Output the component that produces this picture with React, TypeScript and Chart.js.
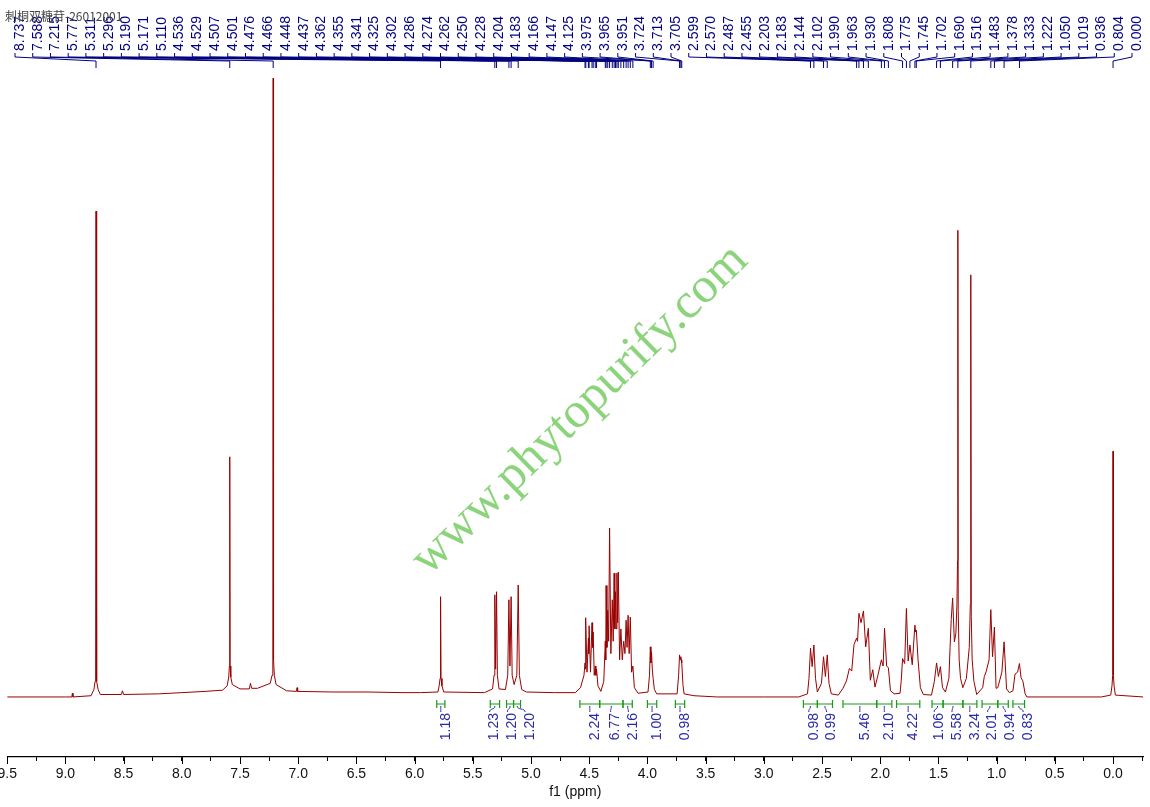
import React, { useEffect, useRef } from "react";
import { Chart, registerables } from "chart.js";

Chart.register(...registerables);

// ---------- data ----------
// spectrum points [ppm, relative intensity] (tallest = 100)
const aromaticRegion: [number, number][] = [
  [9.5, 0.0], [9.0, 0.0], [8.945, 0.0], [8.94, 0.6], [8.935, 0.0],
  [8.78, 0.2], [8.755, 1.2], [8.745, 2.5], [8.74, 5], [8.737, 78.5], [8.734, 5], [8.729, 2.5], [8.719, 1.2], [8.7, 0.4],
  [8.52, 0.4], [8.51, 1.0], [8.5, 0.4],
  [8.2, 0.5], [8.0, 0.7], [7.8, 0.9], [7.65, 1.1],
  [7.61, 1.8], [7.597, 3.2], [7.591, 5], [7.588, 38.8], [7.585, 5], [7.579, 3.2], [7.566, 2.0],
  [7.5, 1.3], [7.42, 1.3], [7.41, 2.2], [7.4, 1.4], [7.35, 1.4],
  [7.24, 2.2], [7.225, 3.5], [7.218, 6], [7.215, 100], [7.212, 6], [7.205, 3.5], [7.19, 2.0],
  [7.1, 1.0], [7.015, 0.9], [7.01, 1.5], [7.005, 0.9],
  [6.7, 0.8], [6.4, 0.8], [6.1, 0.7], [5.95, 0.7],
];

const sugarRegion: [number, number][] = [
  [5.8, 0.8], [5.789, 1.8], [5.781, 3], [5.777, 16.2], [5.773, 3], [5.765, 1.8], [5.75, 0.8],
  [5.4, 0.7], [5.33, 1.3], [5.318, 3.5], [5.311, 16.5], [5.304, 4.5], [5.296, 17.0], [5.289, 3.5], [5.275, 1.3],
  [5.22, 1.2], [5.2, 3.5], [5.19, 15.7], [5.181, 5], [5.171, 16.2], [5.162, 3.5], [5.145, 2.0],
  [5.122, 3.5], [5.11, 18.1], [5.1, 3.5], [5.08, 1.2], [5.04, 0.8],
  [4.8, 0.7], [4.62, 0.7], [4.575, 1.5], [4.545, 3.5], [4.536, 5.5], [4.532, 4.5], [4.529, 12.8], [4.519, 4],
  [4.507, 9.5], [4.504, 7], [4.501, 11.5], [4.489, 4], [4.476, 12], [4.471, 8], [4.466, 10.5], [4.457, 3.5],
  [4.448, 5], [4.443, 3.5], [4.437, 4.5], [4.425, 1.8], [4.4, 0.9],
  [4.375, 2.5], [4.362, 9], [4.358, 6], [4.355, 18], [4.348, 8], [4.341, 14], [4.333, 9], [4.325, 27.3],
  [4.314, 7], [4.302, 15.7], [4.294, 9], [4.286, 20], [4.28, 11], [4.274, 17], [4.268, 11], [4.262, 20],
  [4.256, 12], [4.25, 20.2], [4.239, 6], [4.228, 11], [4.216, 6], [4.204, 9], [4.193, 7], [4.183, 12.4],
  [4.175, 8], [4.166, 13.2], [4.157, 7], [4.147, 12.9], [4.136, 4], [4.125, 5], [4.112, 1.5], [4.08, 0.6],
  [3.995, 0.8], [3.982, 3.5], [3.975, 8.1], [3.97, 5.5], [3.965, 7.3], [3.958, 4.5], [3.951, 3.0], [3.94, 1.2], [3.92, 0.5],
  [3.745, 0.5], [3.732, 3.5], [3.724, 6.8], [3.718, 6.0], [3.713, 6.5], [3.709, 6.0], [3.705, 5.5], [3.695, 2.0], [3.685, 0.5],
  [3.6, 0.2], [3.4, 0.0],
];

const aliphaticRegion: [number, number][] = [
  [3.0, 0.0], [2.7, 0.0], [2.625, 0.5], [2.612, 3], [2.599, 7.9], [2.585, 4.9], [2.57, 8.4], [2.556, 3], [2.54, 0.8],
  [2.505, 2.2], [2.487, 6.5], [2.471, 3.3], [2.455, 6.8], [2.44, 2.2], [2.42, 0.5], [2.36, 0.3],
  [2.32, 1.4], [2.29, 2.6], [2.265, 4.6], [2.245, 4.2], [2.225, 8.5], [2.203, 9.5], [2.195, 9.0], [2.183, 13.5],
  [2.165, 12], [2.144, 13.9], [2.125, 8.1], [2.102, 11.1], [2.085, 2.7], [2.064, 4.4], [2.045, 1.6],
  [2.02, 3.5], [1.99, 6], [1.975, 5], [1.963, 11.1], [1.945, 5], [1.93, 4.7], [1.912, 1.0], [1.88, 0.5], [1.83, 0.6],
  [1.82, 2.5], [1.808, 6.2], [1.79, 5.4], [1.775, 14.3], [1.76, 5.8], [1.745, 8.4], [1.725, 5.2], [1.702, 11.6],
  [1.696, 10.5], [1.69, 10.8], [1.675, 6], [1.655, 1.5], [1.63, 0.4],
  [1.56, 0.3], [1.535, 2.5], [1.516, 5.5], [1.5, 3.3], [1.483, 4.9], [1.465, 1.5], [1.44, 0.8],
  [1.41, 3], [1.4, 8], [1.39, 12.5], [1.378, 16], [1.363, 8.9], [1.35, 10.3], [1.341, 15], [1.336, 22], [1.333, 75.4],
  [1.33, 14], [1.322, 6], [1.31, 3], [1.29, 1.5],
  [1.26, 3], [1.235, 8], [1.226, 15], [1.222, 68.2], [1.218, 13], [1.21, 6], [1.195, 2.5], [1.171, 0.4],
  [1.12, 1.5], [1.106, 3.3], [1.09, 4.1], [1.065, 6], [1.05, 14.1], [1.035, 6.5], [1.019, 11.3], [1.005, 1.4],
  [0.99, 1.5], [0.955, 4], [0.936, 8.9], [0.925, 5], [0.915, 1.3], [0.89, 0.7],
  [0.86, 1.0], [0.842, 3.7], [0.82, 4], [0.804, 5.4], [0.79, 3.1], [0.775, 2.6], [0.755, 0.5], [0.74, 0.0],
  [0.1, 0.0], [0.02, 0.3], [0.009, 1.8], [0.003, 3.5], [0.0, 39.7], [-0.003, 3.5], [-0.009, 1.8], [-0.02, 0.3], [-0.26, 0.0],
];

// peak-pick labels (top)
const peakLabels = [
  "8.737", "7.588", "7.215", "5.777", "5.311", "5.296", "5.190", "5.171", "5.110",
  "4.536", "4.529", "4.507", "4.501", "4.476", "4.466", "4.448", "4.437",
  "4.362", "4.355", "4.341", "4.325", "4.302", "4.286", "4.274", "4.262", "4.250", "4.228",
  "4.204", "4.183", "4.166", "4.147", "4.125", "3.975", "3.965", "3.951", "3.724", "3.713", "3.705",
  "2.599", "2.570", "2.487", "2.455", "2.203", "2.183", "2.144", "2.102", "1.990", "1.963", "1.930",
  "1.808", "1.775", "1.745", "1.702", "1.690", "1.516", "1.483", "1.378", "1.333", "1.222",
  "1.050", "1.019", "0.936", "0.804", "0.000",
];

// integrals
const integralValues = ["1.18", "1.23", "1.20", "1.20", "2.24", "6.77", "2.16", "1.00", "0.98",
  "0.98", "0.99", "5.46", "2.10", "4.22", "1.06", "5.58", "3.24", "2.01", "0.94", "0.83"];
const integralFrom = [5.81, 5.35, 5.21, 5.15, 4.58, 4.41, 4.21, 4.0, 3.76,
  2.66, 2.54, 2.32, 2.03, 1.86, 1.555, 1.46, 1.29, 1.125, 0.99, 0.86];
const integralTo = [5.74, 5.27, 5.15, 5.09, 4.41, 4.21, 4.13, 3.92, 3.68,
  2.54, 2.41, 2.03, 1.9, 1.66, 1.46, 1.29, 1.17, 0.99, 0.9, 0.76];

// axis ticks
const majorTicks = [9.5, 9.0, 8.5, 8.0, 7.5, 7.0, 6.5, 6.0, 5.5, 5.0, 4.5, 4.0, 3.5, 3.0, 2.5, 2.0, 1.5, 1.0, 0.5, 0.0];
const minorTicks = [9.25, 8.75, 8.25, 7.75, 7.25, 6.75, 6.25, 5.75, 5.25, 4.75, 4.25, 3.75, 3.25, 2.75, 2.25, 1.75, 1.25, 0.75, 0.25, -0.25];

const titleText = "刺桐双糖苷-26012001";
const watermark = "www.phytopurify.com";
const axisTitle = "f1 (ppm)";

// ---------- layout constants ----------
const SHIFT = 10; // canvas is shifted left by this many px
const CW = 1170;
const CH = 807;
const FONT = 'Arial, "Liberation Sans", sans-serif';

const overlayPlugin = {
  id: "nmrOverlay",
  afterDraw(chart: any) {
    const ctx = chart.ctx as CanvasRenderingContext2D;
    const xs = chart.scales.x;
    const area = chart.chartArea;

    // major tick extension
    ctx.save();
    ctx.strokeStyle = "#000";
    ctx.lineWidth = 1;
    majorTicks.forEach((v) => {
      const px = Math.round(xs.getPixelForValue(v)) + 0.5;
      ctx.beginPath();
      ctx.moveTo(px, area.bottom);
      ctx.lineTo(px, area.bottom + 7);
      ctx.stroke();
    });
    ctx.restore();

    // peak labels
    const n = peakLabels.length;
    const lx0 = 15 + SHIFT;
    const lx1 = 1132 + SHIFT;
    ctx.save();
    ctx.strokeStyle = "#000080";
    ctx.fillStyle = "#000080";
    ctx.lineWidth = 1;
    ctx.font = `14px ${FONT}`;
    peakLabels.forEach((lab, i) => {
      const lx = lx0 + (i * (lx1 - lx0)) / (n - 1);
      const px = xs.getPixelForValue(parseFloat(lab));
      ctx.save();
      ctx.translate(lx + 5, 51);
      ctx.rotate(-Math.PI / 2);
      ctx.textAlign = "left";
      ctx.textBaseline = "middle";
      ctx.fillText(lab, 0, 0);
      ctx.restore();
      ctx.beginPath();
      ctx.moveTo(lx, 53);
      ctx.lineTo(lx, 57);
      ctx.lineTo(px, 61);
      ctx.lineTo(px, 68);
      ctx.stroke();
    });
    ctx.restore();

    // integrals
    const centers = integralFrom.map((f, i) =>
      (xs.getPixelForValue(f) + xs.getPixelForValue(integralTo[i])) / 2
    );
    const pos = centers.slice();
    const gap = 17.8;
    for (let it = 0; it < 400; it++) {
      for (let i = 0; i < pos.length - 1; i++) {
        const d = pos[i + 1] - pos[i];
        if (d < gap) {
          const push = (gap - d) / 2;
          pos[i] -= push;
          pos[i + 1] += push;
        }
      }
    }
    ctx.save();
    integralValues.forEach((val, i) => {
      const xa = xs.getPixelForValue(integralFrom[i]);
      const xb = xs.getPixelForValue(integralTo[i]);
      ctx.strokeStyle = "#1a9a1a";
      ctx.lineWidth = 1.2;
      ctx.beginPath();
      ctx.moveTo(xa, 704);
      ctx.lineTo(xb, 704);
      ctx.moveTo(xa, 700);
      ctx.lineTo(xa, 708);
      ctx.moveTo(xb, 700);
      ctx.lineTo(xb, 708);
      ctx.stroke();
      const cx = centers[i];
      const lx = pos[i];
      ctx.strokeStyle = "#2a2aa8";
      ctx.lineWidth = 1;
      ctx.beginPath();
      ctx.moveTo(cx, 706);
      ctx.bezierCurveTo(cx, 710, lx, 708, lx, 712);
      ctx.stroke();
      ctx.save();
      ctx.fillStyle = "#2a2aa8";
      ctx.font = `14px ${FONT}`;
      ctx.translate(lx + 5, 713);
      ctx.rotate(-Math.PI / 2);
      ctx.textAlign = "right";
      ctx.textBaseline = "middle";
      ctx.fillText(val, 0, 0);
      ctx.restore();
    });
    ctx.restore();

    // header text
    ctx.save();
    ctx.fillStyle = "#444";
    ctx.font = `12px "Noto Sans CJK SC", ${FONT}`;
    ctx.textBaseline = "middle";
    ctx.textAlign = "left";
    ctx.fillText(titleText, 5 + SHIFT, 16);
    ctx.restore();

    // watermark
    ctx.save();
    ctx.translate(580 + SHIFT, 410);
    ctx.rotate((-44.4 * Math.PI) / 180);
    ctx.font = `50px "Liberation Serif", "Times New Roman", serif`;
    ctx.fillStyle = "rgba(120, 205, 100, 0.85)";
    ctx.textAlign = "center";
    ctx.textBaseline = "middle";
    ctx.fillText(watermark, 0, 0);
    ctx.restore();
  },
};

export default function App() {
  const ref = useRef<HTMLCanvasElement | null>(null);

  useEffect(() => {
    if (!ref.current) return;
    const points = [...aromaticRegion, ...sugarRegion, ...aliphaticRegion].map(([x, y]) => ({ x, y }));
    const chart = new Chart(ref.current, {
      type: "scatter",
      data: {
        datasets: [
          {
            data: points,
            showLine: true,
            borderColor: "#990000",
            borderWidth: 1,
            pointRadius: 0,
            tension: 0,
          } as any,
        ],
      },
      options: {
        animation: false,
        responsive: false,
        maintainAspectRatio: false,
        layout: { padding: { left: 7.2 + SHIFT, right: CW - (1143.3 + SHIFT), top: 70, bottom: 0 } },
        plugins: { legend: { display: false }, tooltip: { enabled: false } },
        events: [],
        scales: {
          x: {
            type: "linear",
            reverse: true,
            min: -0.26,
            max: 9.5,
            afterBuildTicks: (scale: any) => {
              const all = [...majorTicks, ...minorTicks].sort((a, b) => b - a);
              scale.ticks = all.map((v) => ({ value: v }));
            },
            afterFit: (scale: any) => {
              scale.height = 50;
            },
            ticks: {
              autoSkip: false,
              maxRotation: 0,
              minRotation: 0,
              padding: 5,
              color: "#111",
              font: { size: 14, family: FONT },
              callback: (v: any) => (majorTicks.includes(Number(v)) ? Number(v).toFixed(1) : ""),
            },
            grid: {
              display: true,
              drawOnChartArea: false,
              drawTicks: true,
              tickLength: 4,
              color: "#000",
              tickColor: "#000",
            },
            border: { display: true, color: "#000", width: 1.2 },
            title: {
              display: true,
              text: axisTitle,
              color: "#111",
              font: { size: 14, family: FONT },
              padding: { top: 0, bottom: 6 },
            },
          },
          y: {
            display: false,
            min: -9.7,
            max: 101.3,
          },
        },
      },
      plugins: [overlayPlugin],
    });
    return () => chart.destroy();
  }, []);

  return (
    <div
      style={{
        position: "fixed",
        left: 0,
        top: 0,
        width: 1150,
        height: 807,
        overflow: "hidden",
        background: "#fff",
      }}
    >
      <canvas
        ref={ref}
        width={CW}
        height={CH}
        style={{ position: "absolute", left: -SHIFT, top: 0, width: CW, height: CH }}
      />
    </div>
  );
}
